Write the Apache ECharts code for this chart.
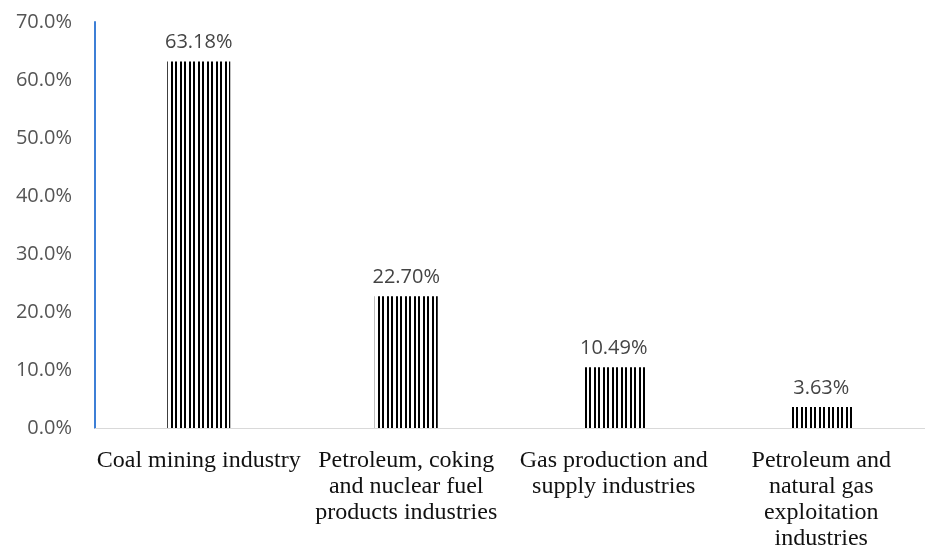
<!DOCTYPE html>
<html>
<head>
<meta charset="utf-8">
<script src="https://cdn.jsdelivr.net/npm/echarts@6/dist/echarts.min.js"></script>
<style>html,body{margin:0;padding:0;background:#fff;}#c{width:925px;height:552px;}</style>
</head>
<body>
<div id="c"></div>
<script>
const categories = [
  "Coal mining industry",
  "Petroleum, coking\nand nuclear fuel\nproducts industries",
  "Gas production and\nsupply industries",
  "Petroleum and\nnatural gas\nexploitation\nindustries"
];
const values = [63.18, 22.70, 10.49, 3.63];
const yTicks = { min: 0, max: 70, interval: 10 };

const pc = document.createElement('canvas');
pc.width = 9; pc.height = 4;
const ctx = pc.getContext('2d');
ctx.fillStyle = '#fff'; ctx.fillRect(0, 0, 9, 4);
ctx.fillStyle = '#000';
ctx.fillRect(0, 0, 2, 4);
ctx.fillRect(4, 0, 2, 4);

const chart = echarts.init(document.getElementById('c'));
chart.setOption({
  animation: false,
  grid: { left: 95, top: 22, bottom: 120, right: -6, containLabel: false },
  xAxis: {
    type: 'category',
    data: categories,
    axisLine: { lineStyle: { color: '#d9d9d9', width: 1 } },
    axisTick: { show: false },
    axisLabel: {
      interval: 0,
      margin: 20,
      fontFamily: 'Liberation Serif',
      fontSize: 24,
      lineHeight: 26,
      color: '#111'
    }
  },
  yAxis: {
    type: 'value',
    min: yTicks.min, max: yTicks.max, interval: yTicks.interval,
    splitLine: { show: false },
    axisLine: { show: true, onZero: false, lineStyle: { color: '#3d7fd6', width: 2 } },
    axisTick: { show: false },
    axisLabel: {
      margin: 23,
      fontFamily: 'Open Sans',
      fontSize: 20,
      color: '#555',
      formatter: v => v.toFixed(1) + '%'
    }
  },
  series: [{
    type: 'bar',
    data: values,
    barWidth: 63,
    itemStyle: { color: { image: pc, repeat: 'repeat' } },
    label: {
      show: true,
      position: 'top',
      distance: 9,
      fontFamily: 'Open Sans',
      fontSize: 20,
      color: '#444',
      formatter: p => p.value.toFixed(2) + '%'
    }
  }]
});
</script>
</body>
</html>
